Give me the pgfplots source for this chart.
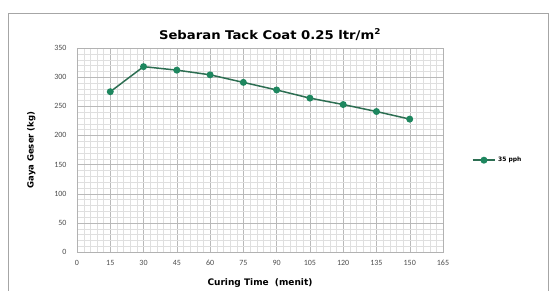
\documentclass[border=0pt]{standalone}
\usepackage{pgfplots}
\pgfplotsset{compat=1.18}
\usepackage{fontspec}
\setmainfont{Carlito}
\newfontfamily\dvs{DejaVu Sans}
\definecolor{sgreen}{RGB}{30,135,95}
\definecolor{sline}{RGB}{45,110,82}
\begin{document}
\begin{tikzpicture}[x=1pt,y=1pt]
\path[use as bounding box] (-77,-39) rectangle (475,252);
\draw[gray!70, line width=0.9pt] (-69,-50) rectangle (471,239);
\begin{axis}[
  at={(0,0)}, anchor=south west,
  scale only axis, width=366pt, height=204pt,
  xmin=0, xmax=165, ymin=0, ymax=350,
  xtick={0,15,...,165}, ytick={0,50,...,350},
  minor x tick num=4, minor y tick num=4,
  grid=both,
  major grid style={gray!55, line width=0.4pt},
  minor grid style={gray!25, line width=0.3pt},
  axis line style={gray!60},
  tick style={draw=none},
  /pgf/number format/assume math mode=true,
  ticklabel style={font=\fontsize{8}{9}\selectfont, text=black!70},
  xticklabel style={yshift=-5pt},
  yticklabel style={xshift=-7pt},
  xlabel={\dvs\bfseries Curing Time\ \ (menit)},
  ylabel={\dvs\bfseries Gaya Geser (kg)},
  xlabel style={font=\fontsize{9}{11}\selectfont, yshift=-6pt},
  ylabel style={font=\fontsize{8.5}{10}\selectfont, yshift=12pt},
  title={\scalebox{1.1}[1]{\dvs\bfseries Sebaran Tack Coat 0.25 ltr/m\textsuperscript{2}}},
  title style={font=\fontsize{12}{14}\selectfont, yshift=-2pt, xshift=10pt},
  legend style={at={(1.07,0.45)}, anchor=west, draw=none, fill=none,
    font=\dvs\fontsize{6}{8}\selectfont\bfseries},
  legend cell align=left,
  legend image code/.code={
    \draw[#1, mark=none] (0pt,0pt) -- (0.8cm,0pt);
    \draw[#1, only marks] plot coordinates {(0.4cm,0pt)};
  },
]
\addplot[color=sline, line width=1.5pt, mark=*, mark size=2.7pt,
  mark options={fill=sgreen, draw=sgreen}]
  coordinates {(15,275) (30,318) (45,312) (60,304) (75,291) (90,278) (105,264) (120,253) (135,241) (150,228)};
\addlegendentry{35 pph}
\end{axis}
\end{tikzpicture}
\end{document}
